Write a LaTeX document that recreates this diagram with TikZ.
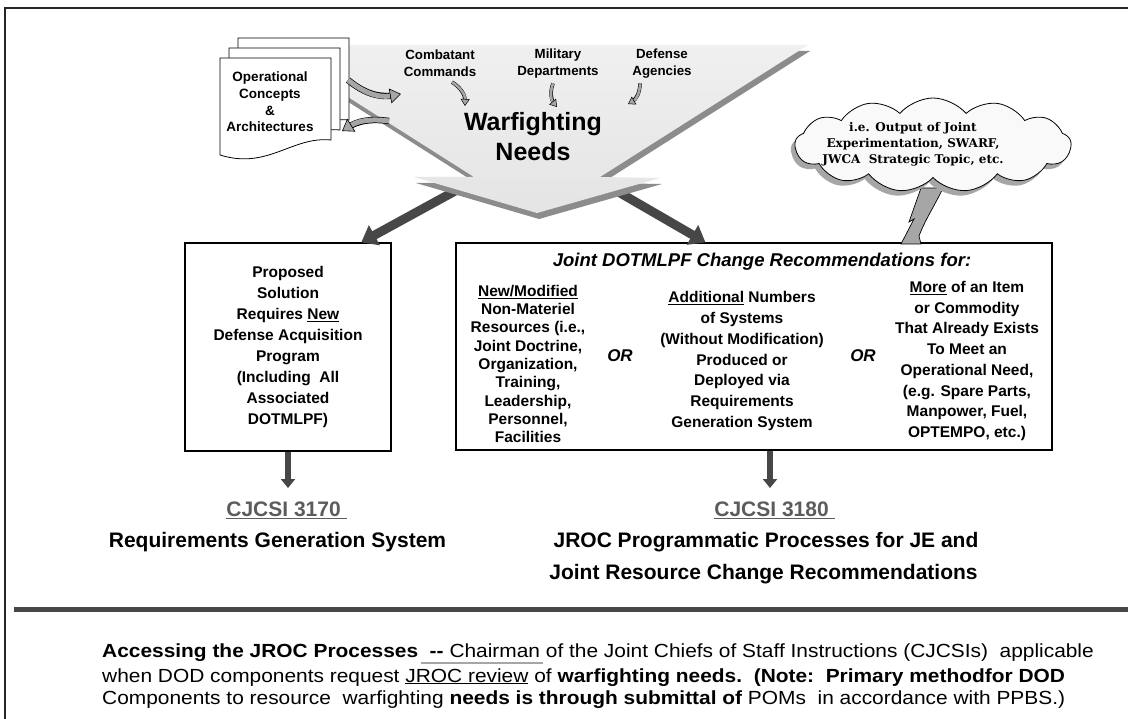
\documentclass[tikz,border=0pt]{standalone}
\usepackage{fontspec}
\setmainfont{Liberation Sans}
\newfontfamily\cloudfont{DejaVu Serif}
\newfontfamily\notefont[FakeStretch=1.1]{Liberation Sans}
\usepackage{tikz}
\usetikzlibrary{arrows.meta, positioning, shapes.symbols, shadows}

\definecolor{funnelshade}{HTML}{8C8C8C}
\definecolor{arrowdark}{HTML}{474747}
\definecolor{refgray}{HTML}{5C5C5C}
\definecolor{bentgray}{HTML}{A6A6A6}

\tikzstyle{frame} = [draw=black!85, line width=1.5pt]
\tikzstyle{paper} = [draw, fill=white, line width=0.8pt]
\tikzstyle{tbox} = [draw, line width=1.2pt, inner sep=0pt]
\tikzstyle{bigarrow} = [draw=arrowdark, line width=9pt, -{Triangle[length=15pt, width=22pt]}]
\tikzstyle{downarrow} = [draw=arrowdark, line width=6pt, -{Triangle[length=9pt, width=14pt]}]
\tikzstyle{bentarrow} = [draw=bentgray, line width=5pt, -{Triangle[length=11pt, width=15pt, line width=0.6pt, color=black, fill=bentgray]}, preaction={draw=black, line width=6.4pt, -, shorten >=8pt}]
\tikzstyle{smallbent} = [draw=bentgray, line width=2.6pt, -{Triangle[length=7pt, width=9pt, line width=0.5pt, color=black, fill=bentgray]}, preaction={draw=black, line width=3.6pt, -, shorten >=5pt}]
\tikzstyle{toplbl} = [align=center, inner sep=0pt, font=\bfseries\fontsize{13.3}{17}\selectfont]
\tikzstyle{bigtitle} = [align=center, inner sep=0pt, font=\bfseries\fontsize{25}{30}\selectfont]
\tikzstyle{papertxt} = [align=center, inner sep=0pt, font=\bfseries\fontsize{13.5}{16.7}\selectfont]
\tikzstyle{boxtxt} = [align=center, inner sep=0pt, font=\bfseries\fontsize{15.5}{20.7}\selectfont]
\tikzstyle{rtitle} = [inner sep=0pt, font=\bfseries\itshape\fontsize{18.5}{22}\selectfont]
\tikzstyle{ortxt} = [inner sep=0pt, font=\bfseries\itshape\fontsize{17}{20}\selectfont]
\tikzstyle{reflbl} = [inner sep=0pt, text=refgray, font=\bfseries\fontsize{21}{25}\selectfont]
\tikzstyle{bigbold} = [inner sep=0pt, font=\bfseries\fontsize{21}{25}\selectfont]
\tikzstyle{cloudtxt} = [align=center, inner sep=0pt, font=\cloudfont\bfseries\fontsize{12}{16.2}\selectfont]
\tikzstyle{note} = [inner sep=0pt, font=\notefont\fontsize{19}{22}\selectfont]

\begin{document}
\begin{tikzpicture}[x=1pt, y=-1pt]
\useasboundingbox (0,0) rectangle (1128,719);
\fill[white] (0,0) rectangle (1128,719);
\draw[frame] (1128,8) -- (5,8) -- (5,719);

% the two boxes
\node[tbox, minimum width=206pt, minimum height=208pt, boxtxt, font=\bfseries\fontsize{15.5}{21}\selectfont] (lbox) at (288,347)
  {Proposed\\Solution\\Requires \underline{New}\\Defense Acquisition\\Program\\(Including\ \ All\\Associated\\DOTMLPF)};
\node[tbox, minimum width=596pt, minimum height=207pt] (rbox) at (754,346.5) {};
\node[rtitle] (rhead) at (762,262) {Joint DOTMLPF Change Recommendations for:};
\node[boxtxt, font=\bfseries\fontsize{15.5}{18.3}\selectfont] (col1) at (528,364)
  {\underline{New/Modified}\\Non-Materiel\\Resources (i.e.,\\Joint Doctrine,\\Organization,\\Training,\\Leadership,\\Personnel,\\Facilities};
\node[ortxt] (or1) at (620,356) {OR};
\node[boxtxt] (col2) at (742,361)
  {\underline{Additional} Numbers\\of Systems\\(Without Modification)\\Produced or\\Deployed via\\Requirements\\Generation System};
\node[ortxt] (or2) at (863,356) {OR};
\node[boxtxt] (col3) at (967,361)
  {\underline{More} of an Item\\or Commodity\\That Already Exists\\To Meet an\\Operational Need,\\(e.g. Spare Parts,\\Manpower, Fuel,\\OPTEMPO, etc.)};

% funnel outline points
\coordinate (ftl) at (266,45);
\coordinate (ftr) at (808,45);
\coordinate (frs) at (600,177);
\coordinate (frw) at (660,178);
\coordinate (ftip) at (537,213);
\coordinate (flw) at (414,177);
\coordinate (fls) at (474,177);
\coordinate (fl) at (457,190);
\coordinate (fr) at (615,190);

\draw[bigarrow] (fl) -- (lbox.55);
\draw[bigarrow] (fr) -- (rbox.115);

\fill[funnelshade, transform canvas={xshift=2pt, yshift=-6pt}] (ftl) -- (ftr) -- (frs) -- (frw) -- (ftip) -- (flw) -- (fls) -- cycle;
\shade[top color=gray!12, bottom color=gray!21] (ftl) -- (ftr) -- (frs) -- (frw) -- (ftip) -- (flw) -- (fls) -- cycle;

\node[bigtitle] (need) at (533,137) {Warfighting\\Needs};
\node[toplbl] (cc) at (440,63.5) {Combatant\\Commands};
\node[toplbl] (md) at (558,63.5) {Military\\Departments};
\node[toplbl] (da) at (662,63.5) {Defense\\Agencies};
\coordinate (cce) at (465,106);
\coordinate (mde) at (557,107);
\coordinate (dae) at (628,104);
\draw[smallbent] ([xshift=12pt, yshift=-5pt]cc.south) to[bend left=30] (cce);
\draw[smallbent] ([xshift=-5pt, yshift=-5pt]md.south) to[bend right=30] (mde);
\draw[smallbent] ([xshift=-22pt, yshift=-5pt]da.south) to[bend left=30] (dae);

% stack of papers
\foreach \dx/\dy in {18/-20, 9/-10, 0/0}
  \draw[paper, shift={(\dx,\dy)}] (220,58) -- (331,58) -- (331,140) .. controls (292,136) and (268,170) .. (220,155) -- cycle;
\node[papertxt] (ptxt) at (270,102) {Operational\\Concepts\\\&\\Architectures};

\coordinate (pout) at (348,80);
\coordinate (fin) at (401,94);
\coordinate (fout) at (389,121);
\coordinate (pin) at (342,131);
\draw[bentarrow] (pout) to[bend right=25] (fin);
\draw[bentarrow] (fout) to[bend right=20] (pin);

% cloud and its tail
\filldraw[fill=bentgray, draw=black, line width=0.7pt] (921,188) -- (909,222) -- (914,219) -- (901,244) -- (921,244) -- (919,236) .. controls (925,220) and (935,205) .. (943,188) -- cycle;
\node[cloud, cloud puffs=13, cloud puff arc=100, cloud ignores aspect, minimum width=276pt, minimum height=94pt,
  draw, line width=0.8pt, fill=gray!5, drop shadow={shadow xshift=-4pt, shadow yshift=-5pt, fill=gray!70, opacity=1}] (cloud) at (933,145) {};
\node[cloudtxt] (ctxt) at (913,144.5) {i.e. Output of Joint\\Experimentation, SWARF,\\JWCA\ \ Strategic Topic, etc.};

% down to the instructions
\node[reflbl, anchor=base] (c3170) at (286.5,516.5) {\underline{CJCSI 3170\ }};
\node[bigbold, anchor=base] (rgs) at (277.5,547.5) {Requirements Generation System};
\node[reflbl, anchor=base] (c3180) at (774.5,516.5) {\underline{CJCSI 3180\ }};
\node[bigbold, anchor=base] (jroc) at (766,547.5) {JROC Programmatic Processes for JE and};
\node[bigbold, anchor=base] (jrc) at (763.5,579.5) {Joint Resource Change Recommendations};
\coordinate (lend) at (288,488);
\coordinate (rend) at (770,488);
\draw[downarrow] (lbox.south) -- (lend);
\draw[downarrow] ([xshift=16pt]rbox.south) -- (rend);

\draw[draw=arrowdark, line width=5pt] (14,609) -- (1128,609);

\node[note, anchor=base west] (n1) at (102,657) {{\bfseries Accessing the JROC Processes\ \ -{}-} Chairman of the Joint Chiefs of Staff Instructions (CJCSIs)\ \ applicable};
\node[note, anchor=base west] (n2) at (102,682) {when DOD components request \underline{JROC review} of {\bfseries warfighting needs.\ \ (Note:\ \ Primary methodfor DOD}};
\node[note, anchor=base west] (n3) at (102,704) {Components to resource\ \ warfighting {\bfseries needs is through submittal of}\ POMs\ \ in accordance with PPBS.)};
\draw[gray!70, line width=1.2pt] (421,663) -- (543,663);
\end{tikzpicture}
\end{document}
